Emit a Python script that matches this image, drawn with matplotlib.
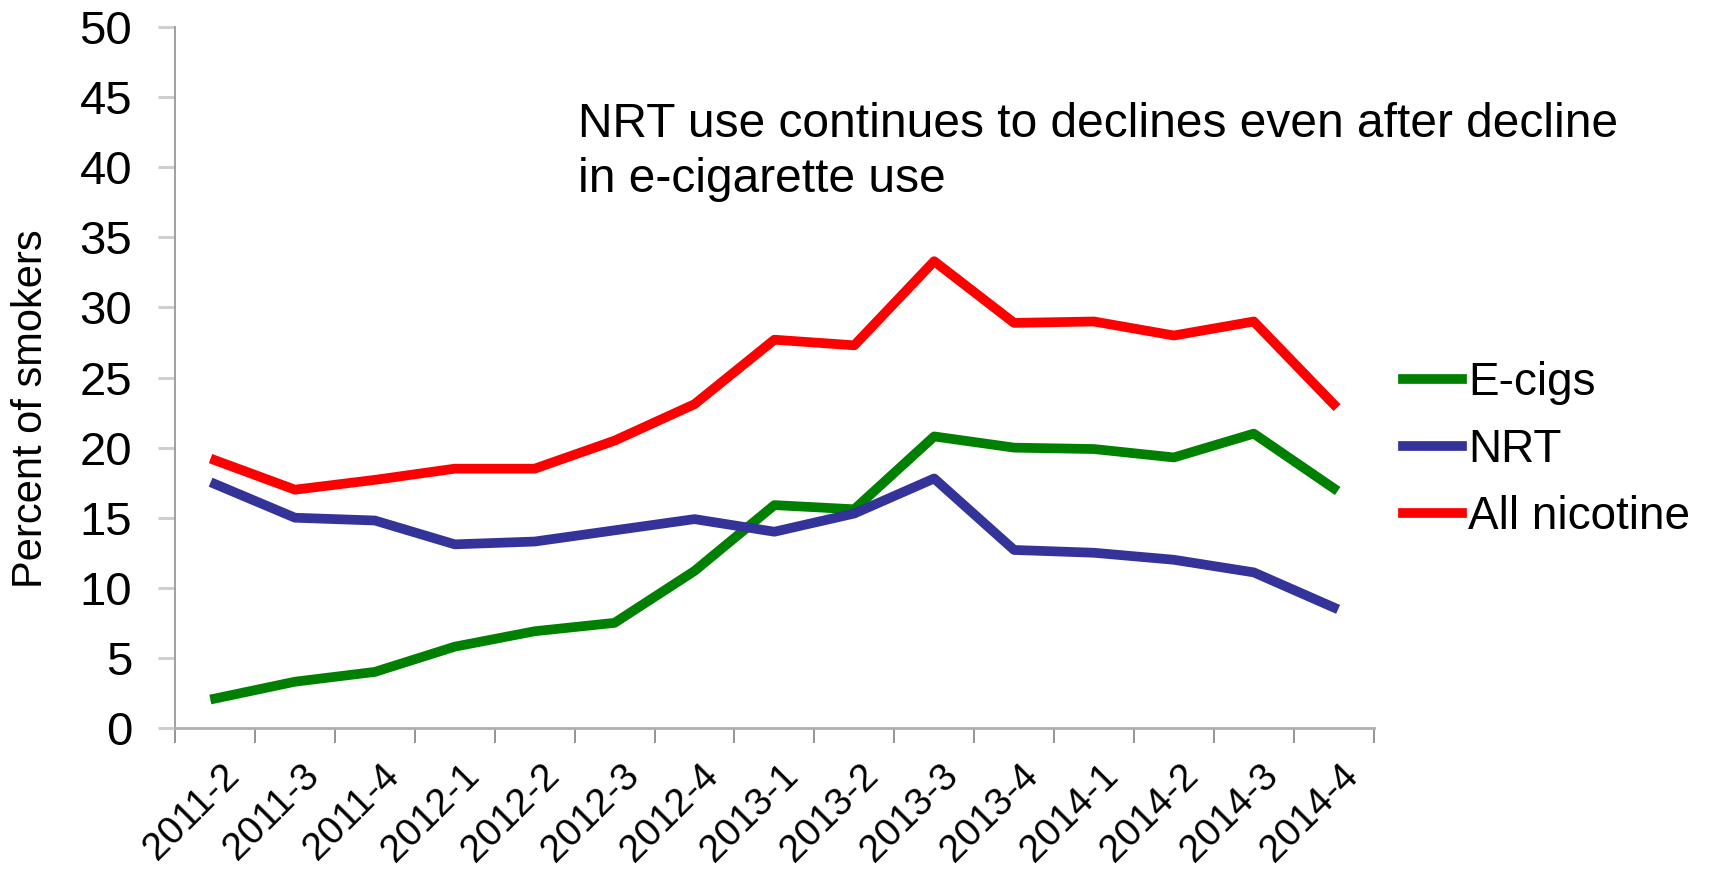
import matplotlib
matplotlib.use('Agg')
import matplotlib.pyplot as plt
from matplotlib.transforms import ScaledTranslation

# quarters, survey of smokers
quarters = ['2011-2', '2011-3', '2011-4', '2012-1', '2012-2', '2012-3', '2012-4',
            '2013-1', '2013-2', '2013-3', '2013-4', '2014-1', '2014-2', '2014-3', '2014-4']
ecigs = [2.1, 3.3, 4.0, 5.8, 6.9, 7.5, 11.2, 15.9, 15.6, 20.8, 20.0, 19.9, 19.3, 21.0, 17.1]
nrt = [17.4, 15.0, 14.8, 13.1, 13.3, 14.1, 14.9, 14.0, 15.3, 17.8, 12.7, 12.5, 12.0, 11.1, 8.6]
all_nicotine = [19.1, 17.0, 17.7, 18.5, 18.5, 20.5, 23.1, 27.7, 27.3, 33.3, 28.9, 29.0, 28.0, 29.0, 23.1]

plt.rcParams['font.family'] = ['Liberation Sans', 'DejaVu Sans']

fig = plt.figure(figsize=(17.17, 8.76), dpi=100)
ax = fig.add_axes([0.102, 0.169, 0.698, 0.800])

x = list(range(len(quarters)))
lw = 7
ax.plot(x, ecigs, color='#008000', lw=lw, label='E-cigs')
ax.plot(x, nrt, color='#333399', lw=lw, label='NRT')
ax.plot(x, all_nicotine, color='#ff0000', lw=lw, label='All nicotine')

ax.set_xlim(-0.5, len(quarters) - 0.5)
ax.set_ylim(0, 50)
ax.set_yticks(range(0, 51, 5))
ax.set_xticks(x)
ax.set_xticklabels(quarters, rotation=45, ha='right', rotation_mode='anchor', fontsize=28)
ax.set_xticks([i - 0.5 for i in range(len(quarters) + 1)], minor=True)
ax.tick_params(axis='x', which='major', length=0, pad=21)
ax.tick_params(axis='x', which='minor', length=11, width=1.3, color='#8c8c8c')
ax.tick_params(axis='y', length=12, width=2.2, color='#cfcfcf', labelsize=34, pad=19)

# nudge the slanted labels a little to the right, like the original
shift = ScaledTranslation(6 / 100, 0, fig.dpi_scale_trans)
for lab in ax.get_xticklabels():
    lab.set_transform(lab.get_transform() + shift)

for s in ['top', 'right']:
    ax.spines[s].set_visible(False)
ax.spines['left'].set_color('#999999')
ax.spines['left'].set_linewidth(1.3)
ax.spines['bottom'].set_color('#b0b0b0')
ax.spines['bottom'].set_linewidth(2)

fig.text(0.018, 0.534, 'Percent of smokers', fontsize=30, rotation=90, ha='center', va='center')

fig.text(0.3366, 0.883, 'NRT use continues to declines even after decline\nin e-cigarette use',
         fontsize=34.5, va='top', ha='left', linespacing=1.28)

ax.legend(loc='center left', bbox_to_anchor=(0.817, 0.486), bbox_transform=fig.transFigure,
          frameon=False, fontsize=33, handlelength=1.3, handletextpad=0.12,
          labelspacing=0.5, borderaxespad=0, borderpad=0)

fig.savefig('out.png', dpi=100)
